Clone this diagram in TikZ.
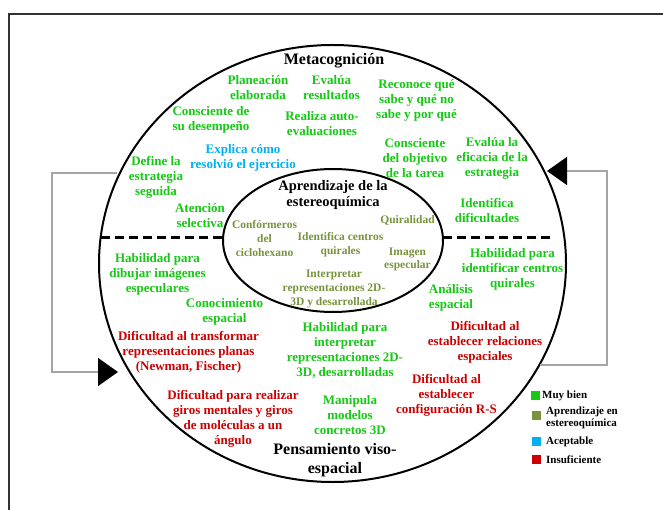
\documentclass[tikz,border=0pt]{standalone}
\usepackage{fontspec}
\setmainfont{Liberation Serif}
\usepackage{tikz}
\usetikzlibrary{arrows.meta}
\definecolor{MuyBien}{RGB}{20,200,20}
\definecolor{Aprend}{RGB}{119,147,60}
\definecolor{Acept}{RGB}{0,176,240}
\definecolor{Insuf}{RGB}{204,0,0}
\definecolor{Lazo}{RGB}{165,165,165}
\definecolor{Marco}{RGB}{50,50,50}

\begin{document}
\begin{tikzpicture}[x=1pt,y=-1pt,
    txt/.style={align=center, inner sep=0pt, font=\bfseries\fontsize{13}{15}\selectfont},
    txtgood/.style={txt, text=MuyBien},
    txtblue/.style={txt, text=Acept},
    txtred/.style={txt, text=Insuf},
    txtolive/.style={align=center, inner sep=0pt, text=Aprend, font=\bfseries\fontsize{11.5}{13.8}\selectfont},
    txttitle/.style={align=center, inner sep=0pt, font=\bfseries\fontsize{16}{19}\selectfont},
    legsq/.style={minimum size=9pt, inner sep=0pt},
    legtxt/.style={anchor=west, align=left, inner sep=0pt, font=\bfseries\fontsize{11}{12.5}\selectfont},
    lazo/.style={Lazo, line width=1.3pt, -{Triangle[length=20pt,width=28pt,color=black]}}
    ]
    \useasboundingbox (0,0) rectangle (663,510);
    %%Frame
    \draw[Marco, line width=1.6pt] (9,510) to (9,14) to (663,14);
    %%Circles
    \draw[line width=2pt] (332.5,263.5) ellipse [x radius=233.5, y radius=218.5];
    \draw[line width=2pt] (333,240.5) ellipse [x radius=110, y radius=71.5];
    \draw[line width=2.2pt, dash pattern=on 9pt off 5pt]
    (101,237.5) to (223,237.5)
    (443,237.5) to (553,237.5)
    ;
    %%Feedback loops
    \coordinate (lsal) at (117,173);
    \coordinate (lent) at (118,372);
    \coordinate (rsal) at (540,365);
    \coordinate (rent) at (547,171);
    \draw[lazo] (lsal) to (52,173) to (52,372) to (lent);
    \draw[lazo] (rsal) to (607,365) to (607,171) to (rent);
    %%Metacognicion
    \node[txttitle] (meta) at (334,61) {Metacognición};
    \node[txtgood] (plan) at (258,88) {Planeación\\elaborada};
    \node[txtgood] (evres) at (331.5,88) {Evalúa\\resultados};
    \node[txtgood] (recon) at (416.5,100) {Reconoce qué\\sabe y qué no\\sabe y por qué};
    \node[txtgood] (consd) at (211,120) {Consciente de\\su desempeño};
    \node[txtgood] (autoev) at (322,124) {Realiza auto-\\evaluaciones};
    \node[txtblue] (expl) at (243,158) {Explica cómo\\resolvió el ejercicio};
    \node[txtgood] (defin) at (156,177) {Define la\\estrategia\\seguida};
    \node[txtgood] (atenc) at (200,216) {Atención\\selectiva};
    \node[txtgood] (consobj) at (415,158) {Consciente\\del objetivo\\de la tarea};
    \node[txtgood] (evef) at (492,158) {Evalúa la\\eficacia de la\\estrategia};
    \node[txtgood] (idif) at (487,211) {Identifica\\dificultades};
    %%Aprendizaje
    \node[txt, font=\bfseries\fontsize{14.5}{16.5}\selectfont] (apr) at (333,195) {Aprendizaje de la\\estereoquímica};
    \node[txtolive] (quir) at (407.5,220) {Quiralidad};
    \node[txtolive] (conf) at (264.5,238.5) {Confórmeros\\del\\ciclohexano};
    \node[txtolive] (idcen) at (340.5,245) {Identifica centros\\quirales};
    \node[txtolive] (imesp) at (407.5,259.5) {Imagen\\especular};
    \node[txtolive] (interp) at (334,289) {Interpretar\\representaciones 2D-\\3D y desarrollada};
    %%Pensamiento viso-espacial
    \node[txtgood] (habdib) at (157.5,274) {Habilidad para\\dibujar imágenes\\especulares};
    \node[txtgood] (conoc) at (224.5,311.5) {Conocimiento\\espacial};
    \node[txtred] (diftr) at (188.5,352.5) {Dificultad al transformar\\representaciones planas\\(Newman, Fischer)};
    \node[txtgood] (habint) at (345,350) {Habilidad para\\interpretar\\representaciones 2D-\\3D, desarrolladas};
    \node[txtgood] (habid) at (512.5,269) {Habilidad para\\identificar centros\\quirales};
    \node[txtgood] (anal) at (451,298) {Análisis\\espacial};
    \node[txtred] (difrel) at (485,342.5) {Dificultad al\\establecer relaciones\\espaciales};
    \node[txtred] (difconf) at (446.5,395) {Dificultad al\\establecer\\configuración R-S};
    \node[txtred] (difgir) at (233,419) {Dificultad para realizar\\giros mentales y giros\\de moléculas a un\\ángulo};
    \node[txtgood] (manip) at (350,415.5) {Manipula\\modelos\\concretos 3D};
    \node[txttitle] (pens) at (335,460) {Pensamiento viso-\\espacial};
    %%Legend
    \node[legsq, fill=MuyBien] (sqmb) at (535.5,395) {};
    \node[legsq, fill=Aprend] (sqap) at (536.5,415.5) {};
    \node[legsq, fill=Acept] (sqac) at (536.5,441.5) {};
    \node[legsq, fill=Insuf] (sqin) at (536.5,459.5) {};
    \node[legtxt] (lgmb) at (542,396) {Muy bien};
    \node[legtxt] (lgap) at (546,418) {Aprendizaje en\\estereoquímica};
    \node[legtxt] (lgac) at (546,441.5) {Aceptable};
    \node[legtxt] (lgin) at (546,460) {Insuficiente};
\end{tikzpicture}
\end{document}
